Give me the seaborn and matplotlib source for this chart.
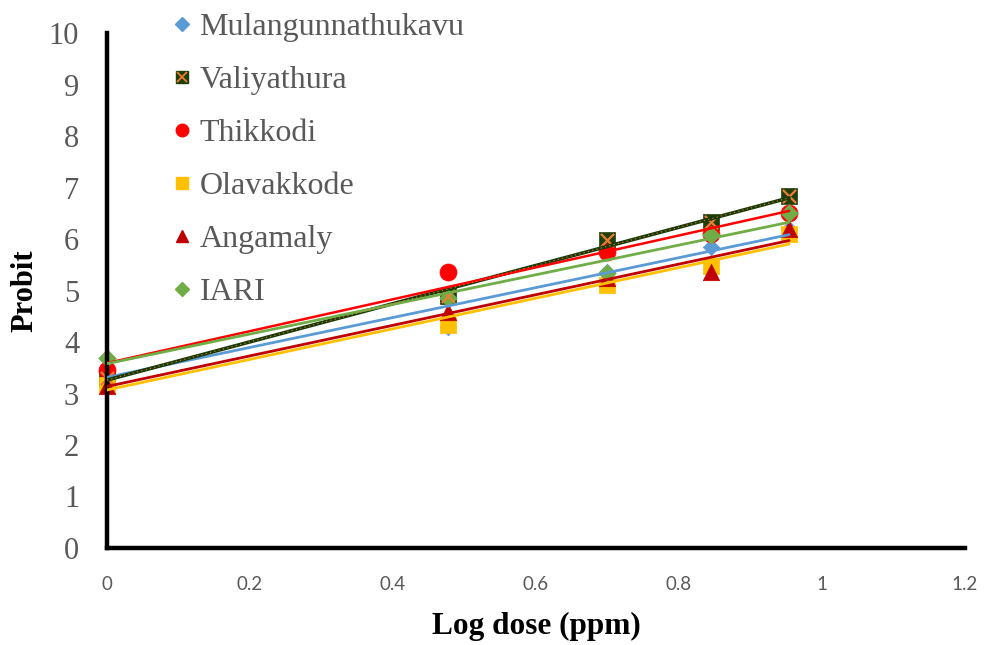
import numpy as np
import pandas as pd
import matplotlib
matplotlib.use("Agg")
import matplotlib.pyplot as plt
from matplotlib.lines import Line2D
import seaborn as sns

# Log of the five doses (1, 3, 5, 7, 9 ppm)
log_dose = [0.0, 0.477, 0.699, 0.845, 0.954]

mulangunnathukavu = [3.50, 4.30, 5.36, 5.85, 6.20]
valiyathura = [3.30, 4.90, 5.98, 6.33, 6.83]
thikkodi = [3.46, 5.36, 5.75, 6.10, 6.50]
olavakkode = [3.17, 4.33, 5.10, 5.48, 6.10]
angamaly = [3.15, 4.58, 5.24, 5.35, 6.20]
iari = [3.69, 4.85, 5.34, 6.08, 6.50]

series_names = ["Mulangunnathukavu", "Valiyathura", "Thikkodi",
                "Olavakkode", "Angamaly", "IARI"]
series_values = [mulangunnathukavu, valiyathura, thikkodi,
                 olavakkode, angamaly, iari]

x_ticks = [0, 0.2, 0.4, 0.6, 0.8, 1, 1.2]
x_tick_labels = ["0", "0.2", "0.4", "0.6", "0.8", "1", "1.2"]
y_ticks = list(range(0, 11))

# marker, face colour, size (pt^2), line colour, line width
styles = {
    "Mulangunnathukavu": ("D", "#5B9BD5", 70, "#5B9BD5", 2.0),
    "Valiyathura": ("s", "#1F3F08", 130, "#1A3A05", 2.6),
    "Thikkodi": ("o", "#FF0000", 150, "#FF0000", 1.8),
    "Olavakkode": ("s", "#FFC000", 130, "#FFC000", 2.0),
    "Angamaly": ("^", "#C00000", 140, "#C00000", 2.0),
    "IARI": ("D", "#70AD47", 80, "#70AD47", 2.0),
}

sns.set_style("white")
plt.rcParams["font.family"] = ["Liberation Serif", "DejaVu Serif"]

fig = plt.figure(figsize=(9.87, 6.45), dpi=100)
ax = fig.add_axes([0.1084, 0.1504, 0.8693, 0.7984])

df = pd.DataFrame({"log_dose": np.tile(log_dose, len(series_names)),
                   "probit": np.concatenate(series_values),
                   "site": np.repeat(series_names, len(log_dose))})

# markers
for name in series_names:
    sub = df[df.site == name]
    marker, color, size, _, _ = styles[name]
    sns.scatterplot(data=sub, x="log_dose", y="probit", marker=marker,
                    color=color, s=size, edgecolor=color, linewidth=0.5,
                    ax=ax, zorder=2, clip_on=False, legend=False)
    if name == "Valiyathura":
        sns.scatterplot(data=sub, x="log_dose", y="probit", marker="x",
                        color="#ED7D31", s=90, linewidth=1.6,
                        ax=ax, zorder=2.1, clip_on=False, legend=False)

# linear trend lines over the dose range
for name in series_names:
    sub = df[df.site == name]
    _, _, _, lcolor, lw = styles[name]
    sns.regplot(data=sub, x="log_dose", y="probit", scatter=False, ci=None,
                truncate=True, ax=ax,
                line_kws=dict(color=lcolor, lw=lw, zorder=3))
    if name == "Valiyathura":
        sns.regplot(data=sub, x="log_dose", y="probit", scatter=False, ci=None,
                    truncate=True, ax=ax,
                    line_kws=dict(color="#ED7D31", lw=0.8, ls=(0, (1, 3)),
                                  zorder=3.1))

ax.set_xlim(0, 1.2)
ax.set_ylim(0, 10)
ax.set_xticks(x_ticks)
ax.set_xticklabels(x_tick_labels, fontfamily="Lato", fontsize=13.5,
                   color="#595959")
ax.set_yticks(y_ticks)
ax.set_yticklabels([str(v) for v in y_ticks], fontsize=22, color="#595959")
ax.tick_params(axis="x", length=0, pad=20)
ax.tick_params(axis="y", length=0, pad=20)

for side in ["top", "right"]:
    ax.spines[side].set_visible(False)
for side in ["left", "bottom"]:
    ax.spines[side].set_linewidth(3.2)
    ax.spines[side].set_color("black")

ax.set_xlabel("Log dose (ppm)", fontsize=22.5, fontweight="bold",
              color="black", labelpad=14)
ax.set_ylabel("Probit", fontsize=22, fontweight="bold", color="black",
              labelpad=7)

# legend
handles = []
for name in series_names:
    marker, color, size, _, _ = styles[name]
    ms = {"D": 7, "s": 8, "o": 9, "^": 9}[marker]
    h = Line2D([], [], ls="none", marker=marker, color=color,
               markeredgecolor=color, markersize=ms)
    if name == "Valiyathura":
        hx = Line2D([], [], ls="none", marker="x", color="#ED7D31",
                    markersize=7, markeredgewidth=1.3)
        h = (h, hx)
    handles.append(h)

leg = ax.legend(handles, series_names, loc="upper left",
                bbox_to_anchor=(0.160, 1.0), bbox_transform=fig.transFigure,
                frameon=False, fontsize=23, labelspacing=0.74,
                handlelength=0.7, handletextpad=0.2, borderaxespad=0)
for t in leg.get_texts():
    t.set_color("#595959")

fig.savefig("out.png", dpi=100)
